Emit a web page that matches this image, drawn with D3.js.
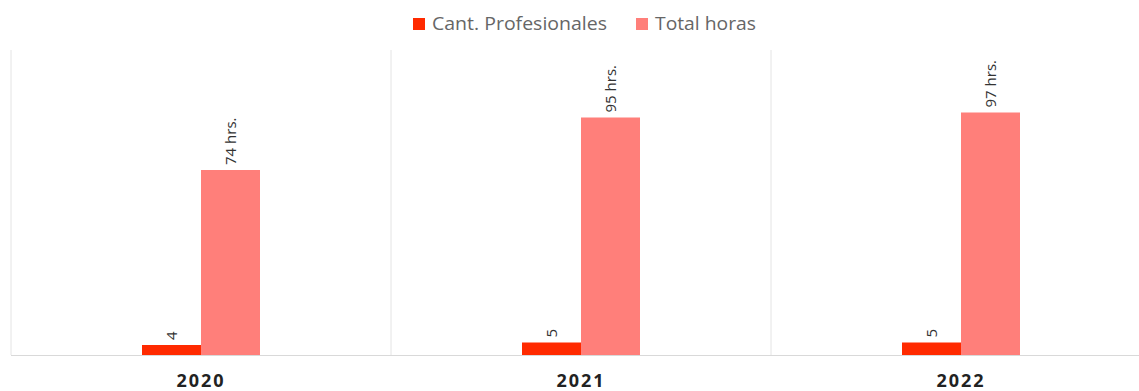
<!DOCTYPE html>
<html><head><meta charset="utf-8">
<script src="https://cdn.jsdelivr.net/npm/d3@7"></script>
<style>body{margin:0;background:#fff}svg{display:block}</style>
</head><body>
<svg id="c" width="1139" height="391"></svg>
<script>
const categories = ["2020", "2021", "2022"];
const seriesNames = ["Cant. Profesionales", "Total horas"];
const profesionales = [4, 5, 5];
const horas = [74, 95, 97];
const profLabels = ["4", "5", "5"];
const horasLabels = ["74 hrs.", "95 hrs.", "97 hrs."];
const colors = ["#ff2a00", "#ff7f7a"];

const svg = d3.select("#c");
const font = "'Open Sans', sans-serif";
const left = 11, right = 1151, baseY = 355, topY = 50;

const x0 = d3.scaleBand().domain(categories).range([left, right]).paddingInner(0);
const groupW = 118;
const x1 = d3.scaleBand().domain(seriesNames).range([0, groupW]).padding(0);
const y = d3.scaleLinear().domain([0, 122]).range([baseY, baseY - 305]);

// separators
svg.append("g").selectAll("line").data(categories.concat(["_end"])).join("line")
  .attr("x1", (d, i) => left + i * x0.bandwidth()).attr("x2", (d, i) => left + i * x0.bandwidth())
  .attr("y1", topY).attr("y2", baseY)
  .attr("stroke", "#e4e4e4").attr("stroke-width", 1);

const rows = categories.map((c, i) => ({cat: c, vals: [
  {s: seriesNames[0], v: profesionales[i], lab: profLabels[i], col: colors[0]},
  {s: seriesNames[1], v: horas[i], lab: horasLabels[i], col: colors[1]}]}));

const g = svg.append("g").selectAll("g").data(rows).join("g")
  .attr("transform", d => `translate(${x0(d.cat) + (x0.bandwidth() - groupW) / 2},0)`);

g.selectAll("rect").data(d => d.vals).join("rect")
  .attr("x", d => x1(d.s)).attr("width", x1.bandwidth())
  .attr("y", d => y(d.v)).attr("height", d => baseY - y(d.v))
  .attr("fill", d => d.col);

g.selectAll("text").data(d => d.vals).join("text")
  .attr("transform", d => `translate(${x1(d.s) + x1.bandwidth() / 2 + 5.5},${y(d.v) - 5}) rotate(-90)`)
  .attr("font-family", font).attr("font-size", 15).attr("fill", "#333")
  .attr("text-anchor", "start")
  .text(d => d.lab);

// baseline
svg.append("line").attr("x1", left).attr("x2", 1139).attr("y1", baseY + 0.5).attr("y2", baseY + 0.5)
  .attr("stroke", "#d9d9d9").attr("stroke-width", 1);

// x axis labels
const xa = svg.append("g").attr("transform", `translate(0,${baseY})`)
  .call(d3.axisBottom(x0).tickSize(0).tickPadding(19));
xa.select(".domain").remove();
xa.selectAll("text").attr("font-family", font).attr("font-size", 18).attr("font-weight", "bold")
  .attr("letter-spacing", 2).attr("fill", "#222");

// legend
const legX = [413, 636];
const legW = [175, 101];
const lg = svg.append("g").selectAll("g").data(seriesNames).join("g")
  .attr("transform", (d, i) => `translate(${legX[i]},24)`);
lg.append("rect").attr("x", 0).attr("y", -6).attr("width", 12).attr("height", 12)
  .attr("fill", (d, i) => colors[i]);
lg.append("text").attr("x", 19).attr("y", 0).attr("dy", "0.35em")
  .attr("font-family", font).attr("font-size", 18).attr("fill", "#666")
  .attr("textLength", (d, i) => legW[i]).attr("lengthAdjust", "spacingAndGlyphs")
  .text(d => d);
</script>
</body></html>
